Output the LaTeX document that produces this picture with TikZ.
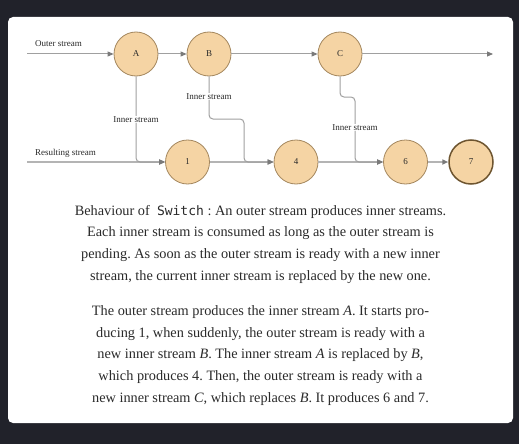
\documentclass[tikz,border=0pt]{standalone}
\usepackage{fontspec}
\setmainfont{Liberation Serif}
\setmonofont{DejaVu Sans Mono}
\usetikzlibrary{arrows.meta}
\definecolor{bgdark}{HTML}{21222A}
\definecolor{nodefill}{HTML}{F5D4A4}
\definecolor{nodeline}{HTML}{A4875E}
\definecolor{lastline}{HTML}{6E5530}
\definecolor{edgegray}{HTML}{A0A0A0}
\definecolor{resgray}{HTML}{B4B4B4}
\definecolor{tipgray}{HTML}{7A7A7A}
\definecolor{txt}{HTML}{2A2A2A}
\tikzset{
  stream/.style={circle, draw=nodeline, fill=nodefill, line width=0.8pt, minimum size=44pt, inner sep=0pt, font=\fontsize{9}{10}\selectfont, text=txt},
  laststream/.style={stream, draw=lastline, line width=1.5pt},
  flow/.style={draw=edgegray, line width=1pt, -{Triangle[length=6pt,width=5pt,color=tipgray]}},
  resflow/.style={flow, draw=resgray, line width=1.7pt},
  inner/.style={draw=edgegray, line width=1pt, rounded corners=4pt, -{Triangle[length=6pt,width=5pt,color=tipgray]}},
  lbl/.style={font=\fontsize{9}{10}\selectfont, text=txt, inner sep=1pt},
  onlbl/.style={lbl, fill=white},
  capline/.style={font=\fontsize{14.3}{17}\selectfont, text=txt, anchor=base, inner sep=0pt}
}
\begin{document}
\frenchspacing
\begin{tikzpicture}[x=1pt,y=-1pt]
\useasboundingbox (0,0) rectangle (519,444);
\fill[bgdark] (0,0) rectangle (519,444);
\fill[white, rounded corners=5pt] (8,17) rectangle (513,423);
% nodes
\node[stream] (A) at (136,54) {A};
\node[stream] (B) at (209,54) {B};
\node[stream] (C) at (340,54) {C};
\node[stream] (n1) at (187.5,162) {1};
\node[stream] (n4) at (296,162) {4};
\node[stream] (n6) at (405.5,162) {6};
\node[laststream] (n7) at (471,162) {7};
\coordinate (os) at (27,54);
\coordinate (oe) at (493,54);
\coordinate (rs) at (27,162);
\coordinate (b1) at (244,119);
\coordinate (c1) at (355,97);
% outer stream
\draw[flow] (os) -- (A);
\draw[flow] (A) -- (B);
\draw[flow] (B) -- (C);
\draw[flow] (C) -- (oe);
\node[lbl, anchor=base west] (lo) at (34,46.5) {Outer stream};
% resulting stream
\draw[resflow] (rs) -- (n1);
\draw[resflow] (n1) -- (n4);
\draw[resflow] (n4) -- (n6);
\draw[resflow] (n6) -- (n7);
\node[lbl, anchor=base west] (lr) at (34,155.5) {Resulting stream};
% inner streams
\draw[inner] (A.south) |- (n1.west);
\draw[inner] (B.south) |- (b1) |- (n4.west);
\draw[inner] (C.south) |- (c1) |- (n6.west);
\node[onlbl] (ia) at (136,119.5) {Inner stream};
\node[onlbl] (ib) at (209,96.5) {Inner stream};
\node[onlbl] (ic) at (355,127.5) {Inner stream};
% caption
\node[capline] (l1) at (260.5,215) {Behaviour of \ {\fontsize{13}{15}\selectfont\ttfamily Switch}\ : An outer stream produces inner streams.};
\node[capline] (l2) at (260.5,236.7) {Each inner stream is consumed as long as the outer stream is};
\node[capline] (l3) at (260.5,258.4) {pending. As soon as the outer stream is ready with a new inner};
\node[capline] (l4) at (260.5,280) {stream, the current inner stream is replaced by the new one.};
\node[capline] (l5) at (260.5,315) {The outer stream produces the inner stream \textit{A}. It starts pro-};
\node[capline] (l6) at (260.5,337) {ducing 1, when suddenly, the outer stream is ready with a};
\node[capline] (l7) at (260.5,358.7) {new inner stream \textit{B}. The inner stream \textit{A} is replaced by \textit{B},};
\node[capline] (l8) at (260.5,380.4) {which produces 4. Then, the outer stream is ready with a};
\node[capline] (l9) at (260.5,402) {new inner stream \textit{C}, which replaces \textit{B}. It produces 6 and 7.};
\end{tikzpicture}
\end{document}
